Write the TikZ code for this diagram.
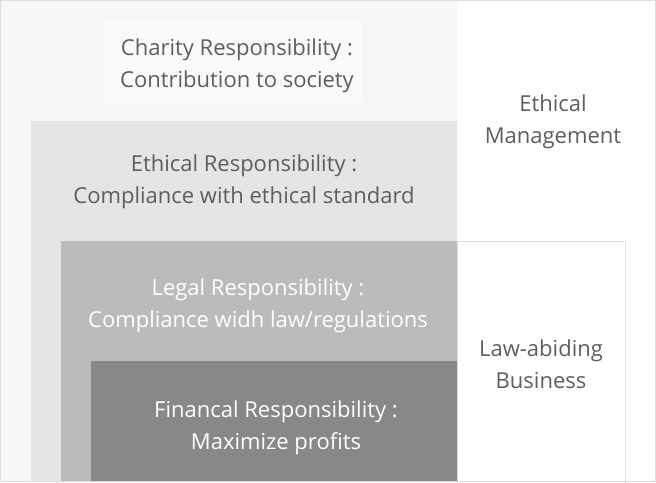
\documentclass[tikz,border=0pt]{standalone}
\usepackage{fontspec}
\setmainfont{Open Sans}
\usepackage{xcolor}
\usetikzlibrary{positioning,calc}
\definecolor{framegray}{HTML}{DDDDDD}
\definecolor{pagegray}{HTML}{F7F7F7}
\definecolor{charitygray}{HTML}{FAFAFA}
\definecolor{ethicalgray}{HTML}{E5E5E5}
\definecolor{legalgray}{HTML}{BBBBBB}
\definecolor{financegray}{HTML}{888888}
\definecolor{textgray}{HTML}{5E5E5E}
\tikzset{%
    % Specifications for style of nodes:
    plain/.style = {},
    layer/.style = {
        plain,
        rectangle, anchor=north west,
        inner sep=0pt, outer sep=0pt
    },
    caption/.style = {
        plain,
        align=center, text=textgray,
        font=\fontsize{22}{32}\selectfont
    },
    lightcaption/.style = {caption, text=white}
}

\begin{document}
\begin{tikzpicture}[x=1pt, y=-1pt]
    \useasboundingbox (0,0) rectangle (656,482);
    \node[layer, fill=pagegray, minimum width=457pt, minimum height=482pt] (page) at (0,0) {};
    \node[layer, fill=charitygray, minimum width=259pt, minimum height=82pt] (charity) at (103,21) {};
    \node[layer, fill=ethicalgray, minimum width=426pt, minimum height=361pt] (ethical) at (31,121) {};
    \node[layer, fill=legalgray, minimum width=396pt, minimum height=241pt] (legal) at (61,241) {};
    \node[layer, fill=financegray, minimum width=366pt, minimum height=121pt] (finance) at (91,361) {};
    \node[layer, draw=framegray, line width=1pt, minimum width=168pt, minimum height=242pt] (lawbox) at (457.5,241.5) {};
    \node[layer, draw=framegray, line width=1pt, minimum width=655pt, minimum height=481pt] (frame) at (0.5,0.5) {};

    \node[caption] (charitytext) at (237,66) {Charity Responsibility :\\Contribution to society};
    \node[caption] (ethicaltext) at (244,182) {Ethical Responsibility :\\Compliance with ethical standard};
    \node[lightcaption] (legaltext) at (258,306) {Legal Responsibility :\\Compliance widh law/regulations};
    \node[lightcaption] (financetext) at (276,428) {Financal Responsibility :\\Maximize profits};
    \node[caption] (ethicalmgmt) at (553,122) {Ethical\\Management};
    \node[caption] (lawabiding) at (541,364) {Law-abiding\\Business};
\end{tikzpicture}
\end{document}
